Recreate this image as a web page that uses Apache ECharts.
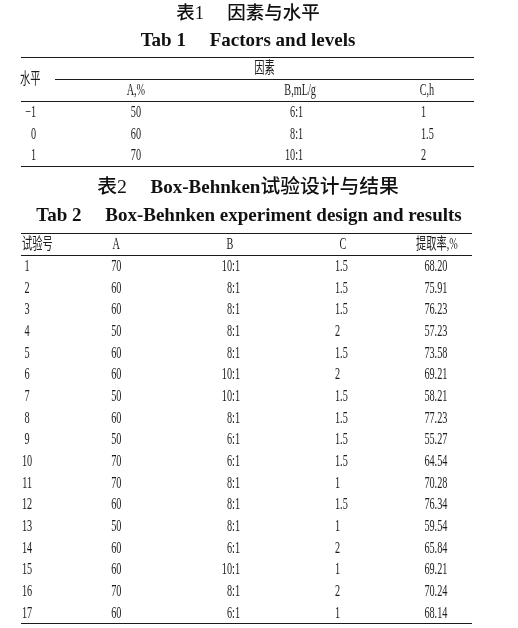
<!DOCTYPE html>
<html>
<head>
<meta charset="utf-8">
<script src="https://cdn.jsdelivr.net/npm/echarts@6/dist/echarts.min.js"></script>
<style>
  html, body { margin: 0; padding: 0; background: #fff; }
  #main { width: 518px; height: 628px; }
</style>
</head>
<body>
<div id="main"></div>
<script>
// Tab 1 - factors and levels
const levelCodes = ['\u22121', '0', '1'];
const factorHeads = ['A,%', 'B,mL/g', 'C,h'];
const levelA = ['50', '60', '70'];
const levelB = ['6:1', '8:1', '10:1'];
const levelC = ['1', '1.5', '2'];

// Tab 2 - Box-Behnken runs
const runHeads = ['试验号', 'A', 'B', 'C', '提取率,%'];
const runNo = ['1', '2', '3', '4', '5', '6', '7', '8', '9', '10', '11', '12', '13', '14', '15', '16', '17'];
const runA = ['70', '60', '60', '50', '60', '60', '50', '60', '50', '70', '70', '60', '50', '60', '60', '70', '60'];
const runB = ['10:1', '8:1', '8:1', '8:1', '8:1', '10:1', '10:1', '8:1', '6:1', '6:1', '8:1', '8:1', '8:1', '6:1', '10:1', '8:1', '6:1'];
const runC = ['1.5', '1.5', '1.5', '2', '1.5', '2', '1.5', '1.5', '1.5', '1.5', '1', '1.5', '1', '2', '1', '2', '1'];
const runYield = ['68.20', '75.91', '76.23', '57.23', '73.58', '69.21', '58.21', '77.23', '55.27', '64.54', '70.28', '76.34', '59.54', '65.84', '69.21', '70.24', '68.14'];

const bodyFont = "'Liberation Serif', 'Noto Sans CJK SC', serif";
const ink = '#1c1c1c';
const rule = { color: '#1a1a1a', width: 1 };

// cells: column index, row index, text
function columnCells(cols, firstRow) {
  const out = [];
  cols.forEach((col, c) => col.forEach((t, r) => out.push({ c, r: r + firstRow, text: t })));
  return out;
}

const t1Cells = [{ c: 0, r: 0, text: '水平', head: true, rowSpan: true }]
  .concat(factorHeads.map((t, i) => ({ c: i + 1, r: 1, text: t, head: true })))
  .concat(columnCells([levelCodes, levelA, levelB, levelC], 2));
const spanCells = [{ c: 0, r: 0, text: '因素', head: true }];
const t2Cells = runHeads.map((t, c) => ({ c, r: 0, text: t, head: true }))
  .concat(columnCells([runNo, runA, runB, runC, runYield], 1));

// per-column nudges [dx, align]
const t1Layout = {
  head: [[-57.6, 'left'], [-55, 'center'], [-4, 'center'], [9.6, 'center']],
  body: [[-41.6, 'right'], [-55, 'center'], [-1, 'right'], [3.6, 'left']]
};
const spanLayout = { head: [[0, 'center']], body: [] };
const t2Layout = {
  head: [[-44, 'left'], [-40, 'center'], [-16.5, 'center'], [6.3, 'center'], [10, 'center']],
  body: [[-39, 'center'], [-40, 'center'], [-6.5, 'right'], [-1.7, 'left'], [9, 'center']]
};

function cellRenderer(cells, layout) {
  return function (params, api) {
    const cell = cells[params.dataIndex];
    let p = api.coord([cell.c, cell.r]);
    if (cell.rowSpan) {
      const q = api.coord([cell.c, cell.r + 1]);
      p = [p[0], (p[1] + q[1]) / 2];
    }
    const lay = cell.head ? layout.head[cell.c] : layout.body[cell.c];
    return {
      type: 'text',
      x: p[0] + lay[0],
      y: p[1] + 1,
      scaleX: 0.64,
      style: {
        text: cell.text,
        align: lay[1],
        verticalAlign: 'middle',
        fill: ink,
        fontSize: 16,
        fontFamily: bodyFont
      }
    };
  };
}

function tableSeries(idx, cells, layout) {
  return {
    type: 'custom',
    xAxisIndex: idx,
    yAxisIndex: idx,
    silent: true,
    data: cells.map(c => [c.c, c.r]),
    renderItem: cellRenderer(cells, layout)
  };
}

function hiddenX(gridIndex, data) {
  return { type: 'category', gridIndex, data, show: false };
}
function ruledY(gridIndex, data, interval) {
  return {
    type: 'category', gridIndex, data, inverse: true,
    axisLine: { show: false }, axisTick: { show: false }, axisLabel: { show: false },
    splitLine: { show: true, interval, lineStyle: rule }
  };
}

const titleCn = { fontSize: 18.5, fontWeight: 500, fontFamily: bodyFont, color: '#111' };
const titleCn2 = { fontSize: 19.8, fontWeight: 500, fontFamily: bodyFont, color: '#111' };
const titleEn = { fontSize: 19, fontWeight: 'bold', fontFamily: bodyFont, color: '#111' };

const chart = echarts.init(document.getElementById('main'));
chart.setOption({
  animation: false,
  backgroundColor: '#fff',
  title: [
    { text: '表1\u3000 因素与水平', left: 248, top: 5, padding: 0, textAlign: 'center', textStyle: titleCn },
    { text: 'Tab 1\u3000 Factors and levels', left: 248, top: 32, padding: 0, textAlign: 'center', textStyle: titleEn },
    {
      text: '{cn|表2}\u3000 {en|Box-Behnken}{cn|试验设计与结果}', left: 248, top: 178, padding: 0, textAlign: 'center',
      textStyle: { fontSize: 19, fontFamily: bodyFont, color: '#111', rich: { cn: titleCn2, en: titleEn } }
    },
    { text: 'Tab 2\u3000 Box-Behnken experiment design and results', left: 249, top: 207, padding: 0, textAlign: 'center', textStyle: titleEn }
  ],
  grid: [
    { left: 21, width: 453, top: 57.3, height: 108.7 },
    { left: 55, width: 419, top: 57.3, height: 108.7 / 5 },
    { left: 21, width: 451, top: 233.3, height: 390 }
  ],
  xAxis: [
    hiddenX(0, ['水平'].concat(factorHeads)),
    hiddenX(1, ['因素']),
    hiddenX(2, runHeads)
  ],
  yAxis: [
    ruledY(0, ['因素', '水平'].concat(levelCodes), (i) => i === 0 || i === 2),
    ruledY(1, ['因素'], 0),
    ruledY(2, ['head'].concat(runNo), (i) => i <= 1)
  ],
  series: [
    tableSeries(0, t1Cells, t1Layout),
    tableSeries(1, spanCells, spanLayout),
    tableSeries(2, t2Cells, t2Layout)
  ]
});
</script>
</body>
</html>
